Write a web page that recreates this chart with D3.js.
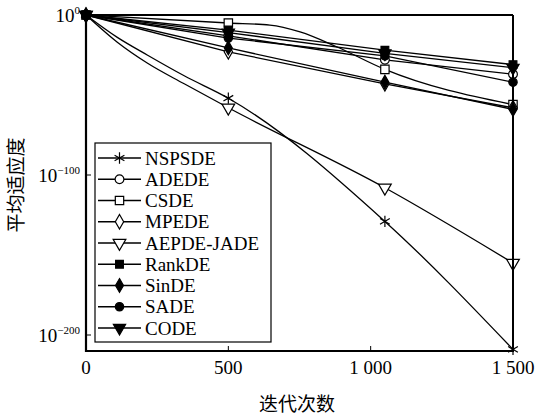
<!DOCTYPE html>
<html lang="zh">
<head>
<meta charset="UTF-8">
<title>平均适应度</title>
<script src="https://cdnjs.cloudflare.com/ajax/libs/d3/7.8.5/d3.min.js"></script>
<style>
  body { margin: 0; background: #fff; }
</style>
</head>
<body>
<div id="chart"></div>
<script>
// iterations where markers are drawn
const markIters = [0, 500, 1050, 1500];

// [iteration, mean fitness]
const nspsde = [[0, 1e0], [110, 1e-14], [215, 1e-25], [345, 1e-38], [500, 1e-52], [1050, 1e-129], [1500, 1e-209]];
const adede  = [[0, 1e0], [500, 1e-13], [1050, 1e-28], [1500, 1e-37]];
const csde   = [[0, 1e0], [500, 1e-5], [646, 5e-7], [752, 2.5e-11], [882, 1e-20], [1050, 1e-34], [1500, 1e-56]];
const mpede  = [[0, 1e0], [500, 1e-23], [1050, 1e-43], [1500, 1e-58]];
const aepde  = [[0, 1e0], [110, 1e-17], [215, 1e-30], [345, 1e-43], [500, 1e-58], [1050, 1e-108], [1500, 1e-155]];
const rankde = [[0, 1e0], [500, 4e-10], [1050, 1e-22], [1500, 1e-31]];
const sinde  = [[0, 1e0], [500, 2.5e-21], [1050, 1e-42], [1500, 1e-59]];
const sade   = [[0, 1e0], [500, 4e-15], [1050, 2.5e-26], [1500, 1e-42]];
const code   = [[0, 1e0], [500, 1e-11], [1050, 1e-24], [1500, 1e-33]];

const names = ["NSPSDE", "ADEDE", "CSDE", "MPEDE", "AEPDE-JADE", "RankDE", "SinDE", "SADE", "CODE"];
const seriesData = [nspsde, adede, csde, mpede, aepde, rankde, sinde, sade, code];

const xTicks = [0, 500, 1000, 1500];
const xTickLabels = ["0", "500", "1 000", "1 500"];
const yTicks = [1e0, 1e-100, 1e-200];
const yTickExp = ["0", "\u2212100", "\u2212200"];

// marker styles per series
const markers = [
  { type: d3.symbolAsterisk, size: 90, fill: "none", rot: 0 },
  { type: d3.symbolCircle, size: 60, fill: "#fff", rot: 0 },
  { type: d3.symbolSquare, size: 70, fill: "#fff", rot: 0 },
  { type: d3.symbolDiamond, size: 60, fill: "#fff", rot: 0 },
  { type: d3.symbolTriangle, size: 70, fill: "#fff", rot: 180 },
  { type: d3.symbolSquare, size: 60, fill: "#000", rot: 0 },
  { type: d3.symbolDiamond, size: 55, fill: "#000", rot: 0 },
  { type: d3.symbolCircle, size: 55, fill: "#000", rot: 0 },
  { type: d3.symbolTriangle, size: 65, fill: "#000", rot: 180 }
];

const serif = "'Liberation Serif', 'Times New Roman', Times, serif";
const cjk = "'Noto Sans CJK SC', sans-serif";

const width = 539, height = 418;
const svg = d3.select("#chart").append("svg")
  .attr("width", width).attr("height", height)
  .attr("font-family", serif);

const x = d3.scaleLinear().domain([0, 1500]).range([86, 513]);
const y = d3.scaleLog().domain([1e-210, 1]).range([351, 15]);

const straight = d3.line().x(d => x(d[0])).y(d => y(d[1]));
const smooth = d3.line().curve(d3.curveMonotoneX).x(d => x(d[0])).y(d => y(d[1]));

// series lines
const g = svg.append("g");
seriesData.forEach(s => {
  g.append("path").datum(s)
    .attr("d", s.length > 4 ? smooth : straight)
    .attr("fill", "none")
    .attr("stroke", "#000")
    .attr("stroke-width", 1.3);
});

function drawMarker(sel, m, px, py) {
  sel.append("path")
    .attr("d", d3.symbol().type(m.type).size(m.size)())
    .attr("transform", `translate(${px},${py}) rotate(${m.rot})`)
    .attr("fill", m.fill)
    .attr("stroke", "#000")
    .attr("stroke-width", 1.2);
}

seriesData.forEach((s, i) => {
  s.filter(d => markIters.includes(d[0]))
    .forEach(d => drawMarker(g, markers[i], x(d[0]), y(d[1])));
});

// frame
svg.append("line").attr("x1", 86).attr("x2", 513).attr("y1", 15).attr("y2", 15)
  .attr("stroke", "#000").attr("stroke-width", 2);
svg.append("line").attr("x1", 513).attr("x2", 513).attr("y1", 15).attr("y2", 351)
  .attr("stroke", "#000").attr("stroke-width", 2);

// x axis
const xAxis = svg.append("g").attr("transform", "translate(0,351)");
xAxis.append("line").attr("x1", 85).attr("x2", 514)
  .attr("stroke", "#000").attr("stroke-width", 2.2);
xTicks.forEach((t, i) => {
  xAxis.append("line").attr("x1", x(t)).attr("x2", x(t)).attr("y1", 0).attr("y2", -5)
    .attr("stroke", "#000").attr("stroke-width", 1);
  xAxis.append("text").attr("x", x(t)).attr("y", 23)
    .attr("text-anchor", "middle").attr("font-size", 19)
    .text(xTickLabels[i]);
});

// y axis
const yAxis = svg.append("g").attr("transform", "translate(86,0)");
yAxis.append("line").attr("y1", 14).attr("y2", 352)
  .attr("stroke", "#000").attr("stroke-width", 2.2);
yTicks.forEach((t, i) => {
  yAxis.append("line").attr("x1", 0).attr("x2", 5).attr("y1", y(t)).attr("y2", y(t))
    .attr("stroke", "#000").attr("stroke-width", 1);
  const txt = yAxis.append("text").attr("x", -6).attr("y", y(t) + 7)
    .attr("text-anchor", "end").attr("font-size", 19);
  txt.append("tspan").text("10");
  txt.append("tspan").attr("dy", -8).attr("font-size", 11).text(yTickExp[i]);
});

// axis titles
svg.append("text").attr("font-family", cjk)
  .attr("x", 297).attr("y", 411).attr("text-anchor", "middle")
  .attr("font-size", 19).text("迭代次数");
svg.append("text").attr("font-family", cjk)
  .attr("transform", "translate(23,185) rotate(-90)")
  .attr("text-anchor", "middle").attr("font-size", 19).text("平均适应度");

// legend
const legend = svg.append("g");
legend.append("rect").attr("x", 95).attr("y", 143).attr("width", 176).attr("height", 199)
  .attr("fill", "#fff").attr("stroke", "#000").attr("stroke-width", 1.2);
names.forEach((n, i) => {
  const ly = 158 + i * 21.25;
  legend.append("line").attr("x1", 98).attr("x2", 141).attr("y1", ly).attr("y2", ly)
    .attr("stroke", "#000").attr("stroke-width", 1.3);
  drawMarker(legend, markers[i], 119.5, ly);
  legend.append("text").attr("x", 145).attr("y", ly + 6.5)
    .attr("font-size", 19).text(n);
});
</script>
</body>
</html>
